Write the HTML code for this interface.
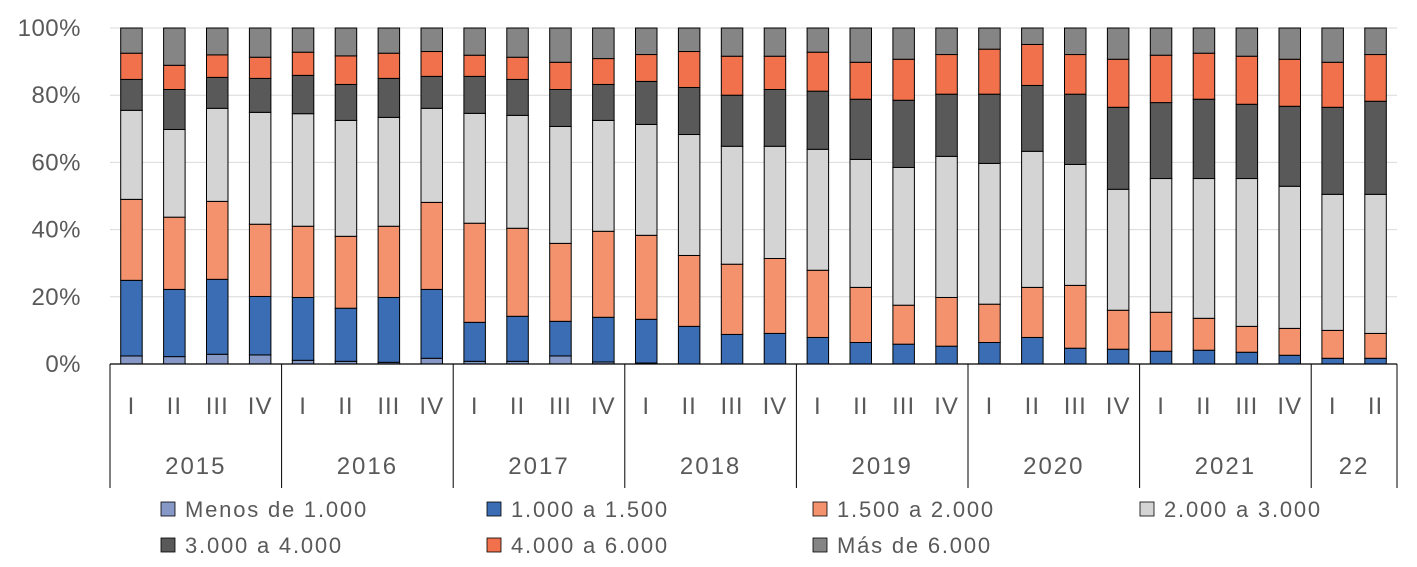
<!DOCTYPE html>
<html><head><meta charset="utf-8"><style>
html,body{margin:0;padding:0;background:#fff;}
svg{display:block;font-family:"Liberation Sans","DejaVu Sans",sans-serif;}
</style></head><body>
<svg id="chart" width="1417" height="567" viewBox="0 0 1417 567" xmlns="http://www.w3.org/2000/svg"></svg>
<script>
const quarters = ["I","II","III","IV","I","II","III","IV","I","II","III","IV","I","II","III","IV","I","II","III","IV","I","II","III","IV","I","II","III","IV","I","II"];
const years = ["2015","2016","2017","2018","2019","2020","2021","22"];
const yearSpans = [4,4,4,4,4,4,4,2];
const yTicks = ["0%","20%","40%","60%","80%","100%"];
const seriesNames = ["Menos de 1.000","1.000 a 1.500","1.500 a 2.000","2.000 a 3.000","3.000 a 4.000","4.000 a 6.000","Más de 6.000"];
const sMenos = [2.4,2.2,2.9,2.7,1.1,0.8,0.5,1.7,0.8,0.8,2.4,0.6,0.3,0,0,0,0,0,0,0,0,0,0,0,0,0,0,0,0,0];
const s1000 = [22.5,20.0,22.3,17.4,18.7,15.8,19.3,20.5,11.6,13.4,10.3,13.3,13.0,11.2,8.8,9.1,7.9,6.4,5.9,5.3,6.4,7.9,4.7,4.4,3.8,4.1,3.5,2.6,1.7,1.7];
const s1500 = [24.1,21.5,23.2,21.5,21.2,21.4,21.2,25.9,29.5,26.2,23.2,25.6,25.0,21.1,20.9,22.3,20.0,16.4,11.6,14.5,11.4,14.9,18.7,11.6,11.6,9.5,7.7,8.0,8.3,7.4];
const s2000 = [26.5,26.1,27.7,33.3,33.5,34.5,32.4,28.0,32.7,33.6,34.8,33.0,33.0,36.0,35.1,33.4,36.0,38.1,41.0,42.0,41.9,40.5,36.0,36.0,39.8,41.6,44.0,42.3,40.5,41.4];
const s3000 = [9.2,11.9,9.2,10.1,11.4,10.7,11.6,9.5,11.0,10.7,11.0,10.7,12.8,14.0,15.2,16.9,17.3,17.9,20.0,18.5,20.6,19.6,20.9,24.4,22.6,23.6,22.1,23.8,25.9,27.7];
const s4000 = [7.8,7.2,6.7,6.3,6.9,8.5,7.5,7.4,6.3,6.6,8.1,7.7,8.0,10.7,11.6,9.9,11.6,11.0,12.2,11.8,13.4,12.2,11.8,14.3,14.1,13.7,14.3,14.0,13.4,13.9];
const s6000 = [7.5,11.1,8.0,8.7,7.2,8.3,7.5,7.0,8.1,8.7,10.2,9.1,7.9,7.0,8.4,8.4,7.2,10.2,9.3,7.9,6.3,4.9,7.9,9.3,8.1,7.5,8.4,9.3,10.2,7.9];

const series = [sMenos,s1000,s1500,s2000,s3000,s4000,s6000];
const colors = ["#8598c6","#3b6db4","#f4926d","#d4d4d4","#595959","#f0714b","#858585"];
const NS = "http://www.w3.org/2000/svg";
const svg = document.getElementById('chart');
const X0 = 110, X1 = 1397, Y0 = 364, Y1 = 28;
const cw = (X1 - X0) / quarters.length;
const bw = 21.5;
const y = v => Y0 - (v / 100) * (Y0 - Y1);
const xc = i => X0 + cw * (i + 0.5);
function el(tag, attrs, parent) {
  const e = document.createElementNS(NS, tag);
  for (const k in attrs) e.setAttribute(k, attrs[k]);
  (parent || svg).appendChild(e);
  return e;
}
yTicks.forEach((t, i) => {
  const v = i * 20;
  if (i > 0) {
    const g = el('line', {x1: X0, x2: X1, y1: y(v), y2: y(v), stroke: '#d9d9d9', 'stroke-width': 1});
    
    
  }
  const tx = el('text', {x: 81, y: y(v) + 8, 'text-anchor': 'end', 'font-size': 24, fill: '#595959', 'letter-spacing': 0.5});
  tx.textContent = t;
  
  
});
quarters.forEach((q, i) => {
  let cum = 0;
  series.forEach((s, k) => {
    const v = s[i];
    if (v <= 0) return;
    const r = el('rect', {x: xc(i) - bw / 2, y: y(cum + v), width: bw, height: y(cum) - y(cum + v), fill: colors[k], stroke: '#000', 'stroke-width': 1});
    
    
    cum += v;
  });
  const tq = el('text', {x: xc(i), y: 414, 'text-anchor': 'middle', 'font-size': 24, fill: '#595959', 'letter-spacing': 1});
  tq.textContent = q;
  
  
});
const ax = el('line', {x1: X0, x2: X1, y1: Y0, y2: Y0, stroke: '#000', 'stroke-width': 1.2});


let start = 0;
const sep0 = el('line', {x1: X0, x2: X0, y1: Y0, y2: 488, stroke: '#000', 'stroke-width': 1});


years.forEach((yr, j) => {
  const end = start + yearSpans[j];
  const xe = X0 + cw * end;
  const sp = el('line', {x1: xe, x2: xe, y1: Y0, y2: 488, stroke: '#000', 'stroke-width': 1});
  
  
  const ty = el('text', {x: X0 + cw * (start + end) / 2, y: 474, 'text-anchor': 'middle', 'font-size': 24, fill: '#595959', 'letter-spacing': 2});
  ty.textContent = yr;
  
  
  start = end;
});
const legPos = [[161,510],[487,510],[813,510],[1140,510],[161,546],[487,546],[813,546]];
seriesNames.forEach((n, k) => {
  const [lx, ly] = legPos[k];
  const m = el('rect', {x: lx, y: ly - 8, width: 14, height: 14, fill: colors[k], stroke: '#000', 'stroke-width': 0.8});
  
  
  const t = el('text', {x: lx + 24, y: ly + 7, 'font-size': 22, fill: '#595959', 'letter-spacing': 1.8});
  t.textContent = n;
  
  
});
</script>
</body></html>
